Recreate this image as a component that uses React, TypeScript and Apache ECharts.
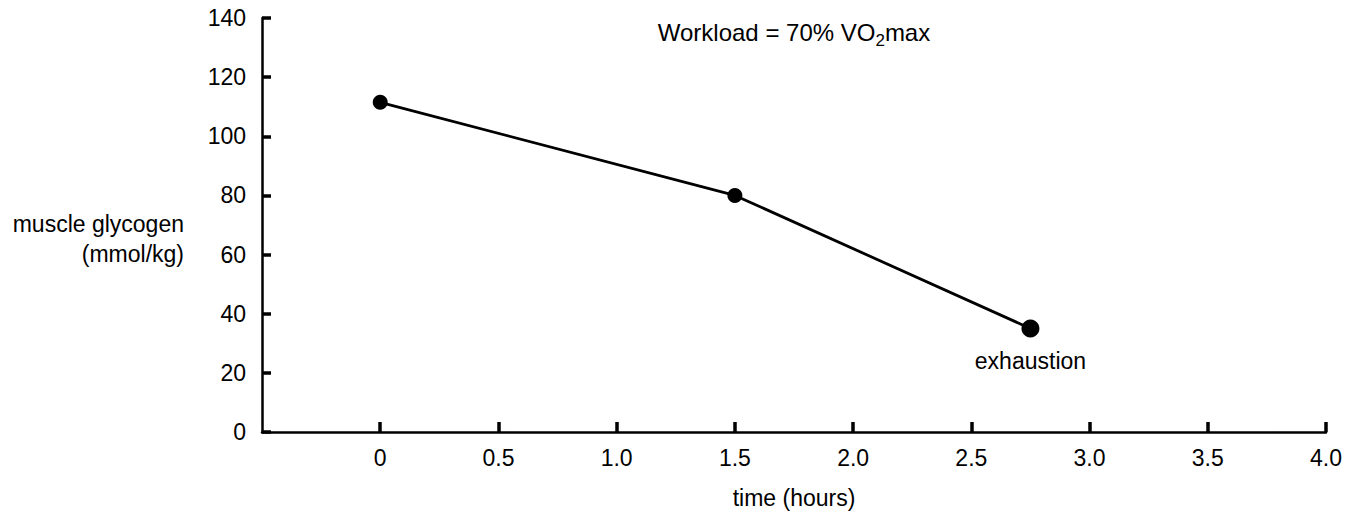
import React, { useEffect, useRef } from "react";
import * as echarts from "echarts";

const timeHours = [0, 1.5, 2.75];
const glycogen = [111.5, 80, 35];
const exhaustionLabel = "exhaustion";
const yTicks = [0, 20, 40, 60, 80, 100, 120, 140];
const xTicks = [0, 0.5, 1.0, 1.5, 2.0, 2.5, 3.0, 3.5, 4.0];
const xAxisName = "time (hours)";
const yAxisName = ["muscle glycogen", "(mmol/kg)"];

const FONT = "'Liberation Sans', Arial, Helvetica, sans-serif";
const FS = 23;

export default function App() {
  const ref = useRef<HTMLDivElement>(null);
  useEffect(() => {
    if (!ref.current) return;
    const chart = echarts.init(ref.current, undefined, { renderer: "svg" });
    const data = timeHours.map((t, i) => {
      const last = i === timeHours.length - 1;
      return {
        value: [t, glycogen[i]],
        symbolSize: last ? 18 : 15,
        label: last
          ? {
              show: true,
              position: "bottom",
              distance: 12,
              formatter: exhaustionLabel,
              color: "#000",
              fontSize: FS,
              fontFamily: FONT,
            }
          : { show: false },
      };
    });
    chart.setOption({
      animation: false,
      backgroundColor: "#fff",
      textStyle: { fontFamily: FONT },
      grid: { left: 262, right: 33, top: 18, bottom: 86 },
      xAxis: {
        type: "value",
        min: -0.5,
        max: 4.0,
        interval: 0.5,
        splitLine: { show: false },
        axisLine: { show: true, onZero: false, lineStyle: { color: "#000", width: 2.5 } },
        axisTick: {
          show: true,
          inside: true,
          length: 10,
          customValues: xTicks,
          lineStyle: { color: "#000", width: 3.5 },
        },
        axisLabel: {
          color: "#000",
          fontSize: FS,
          fontFamily: FONT,
          margin: 14,
          customValues: xTicks,
          formatter: (v: number) => (v === 0 ? "0" : v.toFixed(1)),
        },
        name: xAxisName,
        nameLocation: "middle",
        nameGap: 54,
        nameTextStyle: { color: "#000", fontSize: FS, fontFamily: FONT },
      },
      yAxis: {
        type: "value",
        min: yTicks[0],
        max: yTicks[yTicks.length - 1],
        interval: yTicks[1] - yTicks[0],
        splitLine: { show: false },
        axisLine: { show: true, onZero: false, lineStyle: { color: "#000", width: 2.5 } },
        axisTick: { show: true, inside: true, length: 9, lineStyle: { color: "#000", width: 3.5 } },
        axisLabel: { color: "#000", fontSize: FS, fontFamily: FONT, margin: 16 },
      },
      graphic: [
        {
          type: "text",
          x: 184,
          y: 224,
          style: {
            text: yAxisName[0],
            fill: "#000",
            font: `${FS}px ${FONT}`,
            textAlign: "right",
            textVerticalAlign: "middle",
          },
        },
        {
          type: "text",
          x: 184,
          y: 254,
          style: {
            text: yAxisName[1],
            fill: "#000",
            font: `${FS}px ${FONT}`,
            textAlign: "right",
            textVerticalAlign: "middle",
          },
        },
        {
          type: "text",
          x: 794,
          y: 32,
          style: {
            text: "{a|Workload = 70% VO}{s|2}{a|max}",
            align: "center",
            verticalAlign: "middle",
            rich: {
              a: { fontSize: 24, fontFamily: FONT, color: "#000" },
              s: { fontSize: 17, fontFamily: FONT, color: "#000", padding: [16, 0, 0, 0] },
            },
          },
        },
      ],
      series: [
        {
          type: "line",
          data,
          symbol: "circle",
          itemStyle: { color: "#000" },
          lineStyle: { color: "#000", width: 2.8 },
        },
      ],
    });
    return () => chart.dispose();
  }, []);
  return <div ref={ref} style={{ width: 1359, height: 518, position: "absolute", left: 0, top: 0 }} />;
}
